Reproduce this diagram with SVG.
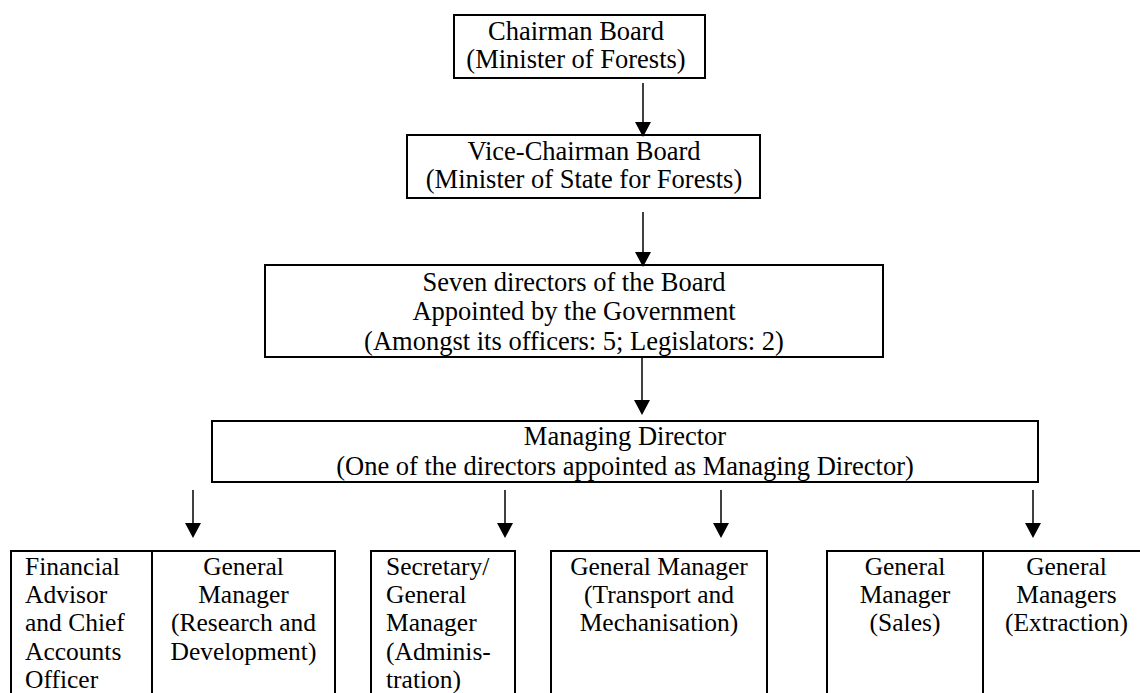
<svg xmlns="http://www.w3.org/2000/svg" width="1140" height="693" viewBox="0 0 1140 693">
<style>
.box{fill:#fff;stroke:#000;stroke-width:2}
.div{stroke:#000;stroke-width:2}
.t{font-family:"Liberation Serif","Times New Roman",serif;font-size:26.5px;fill:#000}
.s{font-family:"Liberation Serif","Times New Roman",serif;font-size:25.5px;fill:#000}
.c{text-anchor:middle}
.conn line{stroke:#000;stroke-width:1.5;fill:none}
</style>
<defs>
<marker id="ah" viewBox="0 0 15 16" refX="12" refY="8" markerWidth="15" markerHeight="16" orient="auto" markerUnits="userSpaceOnUse">
<path d="M0,0 L15,8 L0,16 Z" fill="#000"/>
</marker>
</defs>
<rect width="1140" height="693" fill="#fff"/>

<g id="chairman">
<rect class="box" x="454" y="15" width="251" height="63"/>
<text class="t c" x="576" y="40">Chairman Board</text>
<text class="t c" x="576" y="68">(Minister of Forests)</text>
</g>

<g id="vice-chairman">
<rect class="box" x="407" y="135" width="353" height="63"/>
<text class="t c" x="584" y="160">Vice-Chairman Board</text>
<text class="t c" x="584" y="188">(Minister of State for Forests)</text>
</g>

<g id="directors">
<rect class="box" x="265" y="265" width="618" height="92"/>
<text class="t c" x="574" y="290.5">Seven directors of the Board</text>
<text class="t c" x="574" y="320">Appointed by the Government</text>
<text class="t c" x="574" y="349.5">(Amongst its officers: 5; Legislators: 2)</text>
</g>

<g id="managing-director">
<rect class="box" x="212" y="421" width="826" height="61"/>
<text class="t c" x="625" y="445">Managing Director</text>
<text class="t c" x="625" y="475">(One of the directors appointed as Managing Director)</text>
</g>

<g id="finance-rd">
<rect class="box" x="11" y="551" width="324" height="160"/>
<line class="div" x1="152" y1="551" x2="152" y2="711"/>
<text class="s" x="25" y="575">Financial</text>
<text class="s" x="25" y="603">Advisor</text>
<text class="s" x="25" y="631">and Chief</text>
<text class="s" x="25" y="660">Accounts</text>
<text class="s" x="25" y="688">Officer</text>
<text class="s c" x="243.5" y="575">General</text>
<text class="s c" x="243.5" y="603">Manager</text>
<text class="s c" x="243.5" y="631">(Research and</text>
<text class="s c" x="243.5" y="660">Development)</text>
</g>

<g id="secretary">
<rect class="box" x="371" y="551" width="144" height="160"/>
<text class="s" x="386" y="575">Secretary/</text>
<text class="s" x="386" y="603">General</text>
<text class="s" x="386" y="631">Manager</text>
<text class="s" x="386" y="660">(Adminis-</text>
<text class="s" x="386" y="688">tration)</text>
</g>

<g id="transport">
<rect class="box" x="551" y="551" width="216" height="160"/>
<text class="s c" x="659" y="575">General Manager</text>
<text class="s c" x="659" y="603">(Transport and</text>
<text class="s c" x="659" y="631">Mechanisation)</text>
</g>

<g id="sales-extraction">
<rect class="box" x="827" y="551" width="323" height="160"/>
<line class="div" x1="983" y1="551" x2="983" y2="711"/>
<text class="s c" x="905" y="575">General</text>
<text class="s c" x="905" y="603">Manager</text>
<text class="s c" x="905" y="631">(Sales)</text>
<text class="s c" x="1066.5" y="575">General</text>
<text class="s c" x="1066.5" y="603">Managers</text>
<text class="s c" x="1066.5" y="631">(Extraction)</text>
</g>

<g id="connectors" class="conn">
<line x1="643" y1="83" x2="643" y2="134" marker-end="url(#ah)"/>
<line x1="643" y1="212" x2="643" y2="264" marker-end="url(#ah)"/>
<line x1="642" y1="357" x2="642" y2="412" marker-end="url(#ah)"/>
<line x1="193" y1="490" x2="193" y2="535" marker-end="url(#ah)"/>
<line x1="505" y1="490" x2="505" y2="535" marker-end="url(#ah)"/>
<line x1="721" y1="490" x2="721" y2="535" marker-end="url(#ah)"/>
<line x1="1033" y1="490" x2="1033" y2="535" marker-end="url(#ah)"/>
</g>
</svg>
